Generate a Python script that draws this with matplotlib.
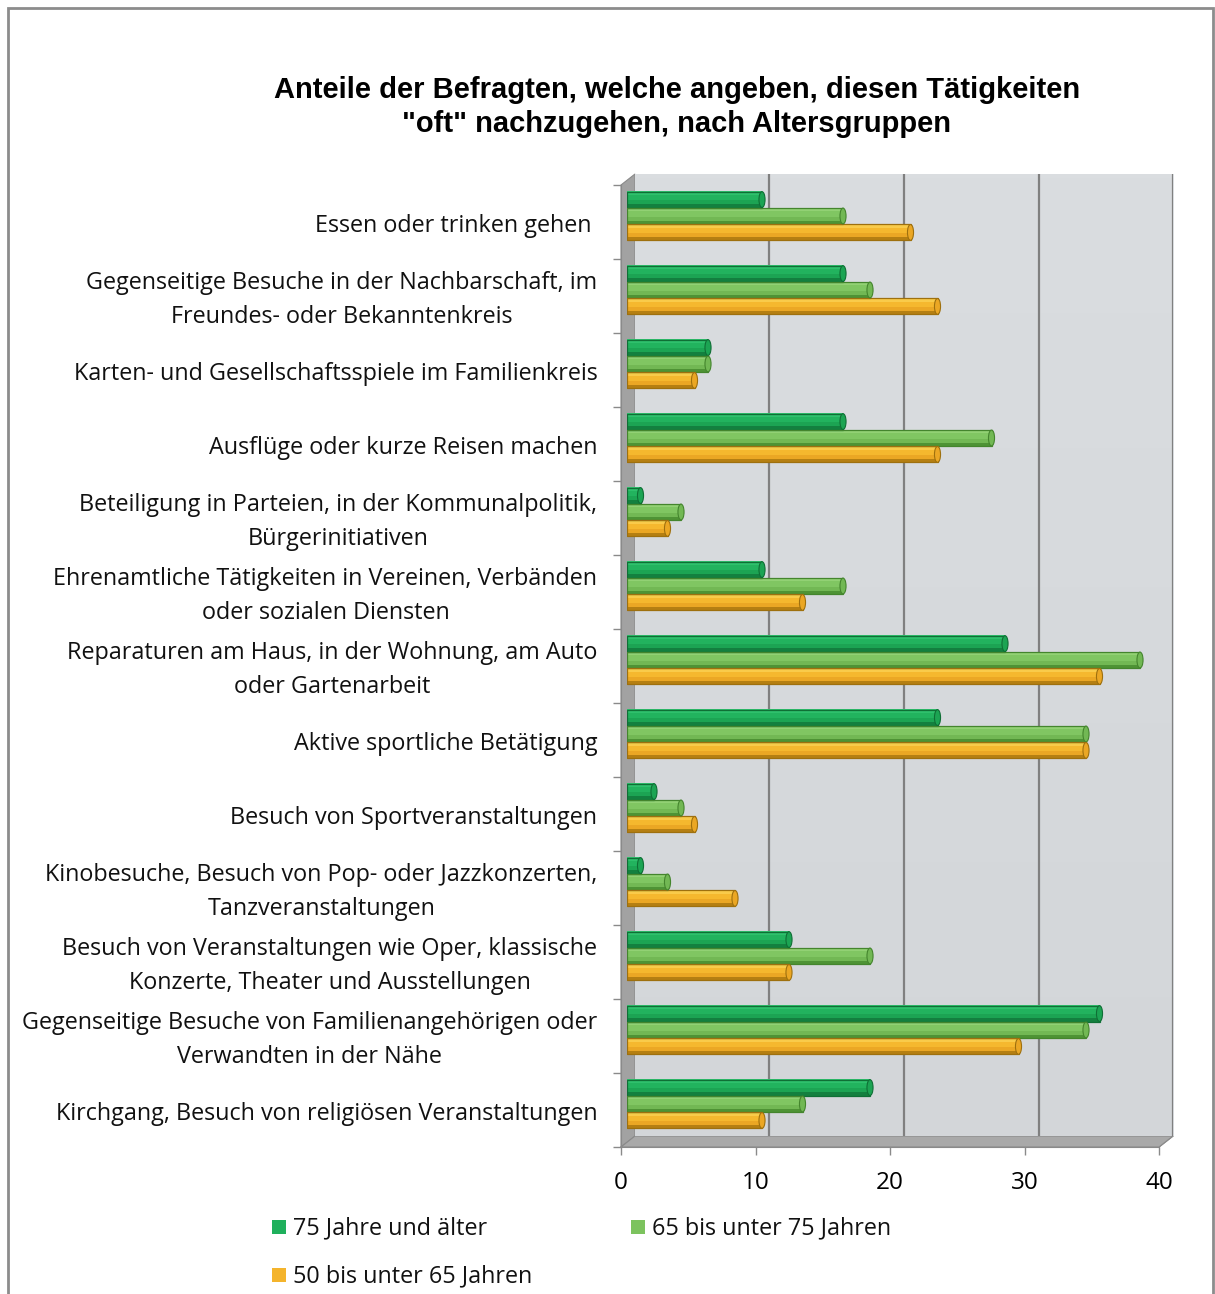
import matplotlib
matplotlib.use("Agg")
import matplotlib.pyplot as plt
from matplotlib.patches import Polygon, Rectangle, Ellipse
from matplotlib.colors import LinearSegmentedColormap
import numpy as np

W, H = 1215, 1294

categories = [
    "Essen oder trinken gehen ",
    "Gegenseitige Besuche in der Nachbarschaft, im\nFreundes- oder Bekanntenkreis",
    "Karten- und Gesellschaftsspiele im Familienkreis",
    "Ausflüge oder kurze Reisen machen",
    "Beteiligung in Parteien, in der Kommunalpolitik,\nBürgerinitiativen",
    "Ehrenamtliche Tätigkeiten in Vereinen, Verbänden\noder sozialen Diensten",
    "Reparaturen am Haus, in der Wohnung, am Auto\noder Gartenarbeit",
    "Aktive sportliche Betätigung",
    "Besuch von Sportveranstaltungen",
    "Kinobesuche, Besuch von Pop- oder Jazzkonzerten,\nTanzveranstaltungen",
    "Besuch von Veranstaltungen wie Oper, klassische\nKonzerte, Theater und Ausstellungen",
    "Gegenseitige Besuche von Familienangehörigen oder\nVerwandten in der Nähe",
    "Kirchgang, Besuch von religiösen Veranstaltungen",
]
age_75_plus = [10, 16, 6, 16, 1, 10, 28, 23, 2, 1, 12, 35, 18]
age_65_75 = [16, 18, 6, 27, 4, 16, 38, 34, 4, 3, 18, 34, 13]
age_50_65 = [21, 23, 5, 23, 3, 13, 35, 34, 5, 8, 12, 29, 10]
series_names = ["75 Jahre und älter", "65 bis unter 75 Jahren", "50 bis unter 65 Jahren"]
xticks = [0, 10, 20, 30, 40]

colors = ["#1FB05C", "#7CC35E", "#F4B42C"]
# cylinder shading: top highlight -> body -> lower shadow
shades = [
    ["#2FC06C", "#22B35E", "#1CA453", "#13803F"],
    ["#92D174", "#80C662", "#72B854", "#4E9335"],
    ["#F9CB4A", "#F5B82E", "#EBA724", "#B57F12"],
]
edges = ["#0F6F35", "#44852D", "#9E700E"]

title = "Anteile der Befragten, welche angeben, diesen Tätigkeiten\n\"oft\" nachzugehen, nach Altersgruppen"

label_font = ["Open Sans", "DejaVu Sans"]
FS = 16.85

fig = plt.figure(figsize=(W / 100, H / 100), dpi=100)


def rect(l, t, r, b):
    return [l / W, 1 - b / H, (r - l) / W, (b - t) / H]


def fp(x, y):
    return (x / W, 1 - y / H)


# outer frame
fig.patches.append(Rectangle(fp(8, 1300), (1213 - 8) / W, (1300 - 8) / H,
                             transform=fig.transFigure, fill=False,
                             edgecolor="#8C8C8C", linewidth=2, zorder=-2))

# geometry (pixels)
FL, FR, FT, FB = 621, 1159, 185, 1147   # front plane
DX, DY = 14, -11                         # depth offset of back wall
BL, BR, BT, BB = FL + DX, FR + DX, FT + DY, FB + DY

# back wall
ax_back = fig.add_axes(rect(BL, BT, BR, BB))
ax_back.set_xlim(0, 40)
ax_back.set_ylim(0, 1)
grad = np.linspace(0, 1, 256).reshape(-1, 1)
ax_back.imshow(grad, extent=[0, 40, 0, 1], aspect="auto",
               cmap=LinearSegmentedColormap.from_list("wall", ["#D3D6D9", "#DADDE0"]),
               origin="lower", zorder=0)
for v in xticks[1:]:
    ax_back.axvline(v, color="#808080", linewidth=1.6, zorder=1)
ax_back.set_xticks([])
ax_back.set_yticks([])
for s in ax_back.spines.values():
    s.set_visible(False)

# left side wall
fig.patches.append(Polygon([fp(FL, FT), fp(BL, BT), fp(BL, BB), fp(FL, FB)],
                           closed=True, transform=fig.transFigure,
                           facecolor="#A2A2A2", edgecolor="#8A8A8A", linewidth=0.8, zorder=-1))
# floor
fig.patches.append(Polygon([fp(FL, FB), fp(BL, BB), fp(BR, BB), fp(FR, FB)],
                           closed=True, transform=fig.transFigure,
                           facecolor="#A9A9A9", edgecolor="#8A8A8A", linewidth=0.8, zorder=-1))
for v in xticks:
    xf = FL + (FR - FL) * v / 40
    xb = BL + (BR - BL) * v / 40
    fig.lines.append(plt.Line2D([xf / W, xb / W], [1 - FB / H, 1 - BB / H],
                                transform=fig.transFigure, color="#8A8A8A",
                                linewidth=1, zorder=-1))

# front axis: ticks and labels
ax_front = fig.add_axes(rect(FL, FT, FR, FB))
ax_front.set_facecolor("none")
ax_front.set_xlim(0, 40)
n = len(categories)
ax_front.set_ylim(n, 0)
ax_front.set_xticks(xticks)
ax_front.set_xticklabels([str(v) for v in xticks], fontsize=17.5, family=label_font)
ax_front.set_yticks(np.arange(n + 1))
ax_front.set_yticklabels([])
ax_front.tick_params(axis="x", length=6, width=1, color="#8A8A8A", pad=11)
ax_front.tick_params(axis="y", length=6, width=1, color="#8A8A8A")
for name, s in ax_front.spines.items():
    s.set_visible(name in ("left", "bottom"))
    s.set_color("#8A8A8A")
for i, cat in enumerate(categories):
    ax_front.text(-1.75, i + 0.555, cat, ha="right", va="center", multialignment="center",
                  fontsize=FS, family=label_font, linespacing=1.6, color="#111111")

# bars, set at mid depth
ax_bar = fig.add_axes(rect(FL + 6, FT - 6, FR + 8, FB - 6))
ax_bar.set_facecolor("none")
ax_bar.set_xlim(0, 40)
ax_bar.set_ylim(n, 0)
ax_bar.axis("off")
ypos = np.arange(n) + 0.5
h = 0.218
offsets = [-0.222, 0.0, 0.222]
band_h = [0.22, 0.33, 0.25, 0.20]   # fractions of bar height, top to bottom
for vals, off, sh, ed in zip([age_75_plus, age_65_75, age_50_65], offsets, shades, edges):
    y = ypos + off
    vals = np.asarray(vals, dtype=float)
    top = y - h / 2
    acc = 0.0
    for frac, c in zip(band_h, sh):
        ax_bar.barh(top + (acc + frac / 2) * h, vals, height=frac * h + 0.004,
                    color=c, linewidth=0, zorder=3)
        acc += frac
    ax_bar.barh(y, vals, height=h, fill=False, edgecolor=ed, linewidth=0.9, zorder=4)
    # rounded end cap
    for yy, v in zip(y, vals):
        ax_bar.add_patch(Ellipse((v, yy), 0.45, h * 0.98, facecolor=sh[2],
                                 edgecolor=ed, linewidth=0.8, zorder=5))

# title
fig.text(677 / W, 1 - 107 / H, title, ha="center", va="center", fontsize=21,
         fontweight="bold", family=["Liberation Sans", "DejaVu Sans"], linespacing=1.26)

# legend
leg_items = [(272, 1227), (631, 1227), (272, 1275)]
for (lx, ly), name, c in zip(leg_items, series_names, colors):
    fig.patches.append(Rectangle(fp(lx, ly + 7), 14 / W, 14 / H, transform=fig.transFigure,
                                 facecolor=c, edgecolor="none"))
    fig.text((lx + 21) / W, 1 - (ly + 1) / H, name, ha="left", va="center", fontsize=FS,
             family=label_font, color="#111111")

fig.savefig("out.png", dpi=100)
